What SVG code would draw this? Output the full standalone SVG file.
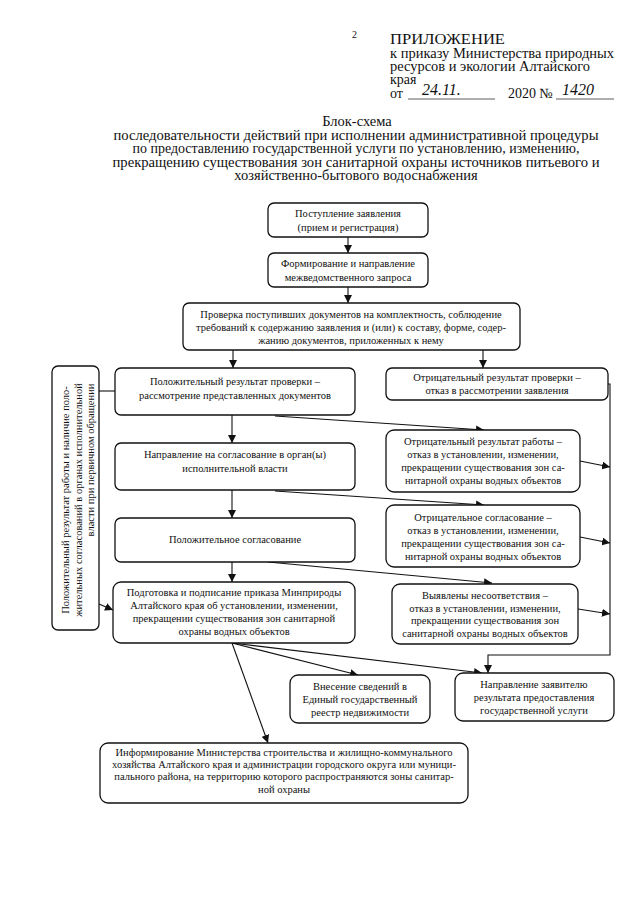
<svg xmlns="http://www.w3.org/2000/svg" width="640" height="905" viewBox="0 0 640 905" font-family="'Liberation Serif', 'DejaVu Serif', serif">
<style>
text{font-family:"Liberation Serif","DejaVu Serif",serif;fill:#111}
.hd{font-size:14px}
.tt{font-size:14.5px;text-anchor:middle}
.bx{fill:#fff;stroke:#111;stroke-width:1.3}
.t{font-size:10.5px;text-anchor:middle}
.ln{stroke:#111;stroke-width:1.1;fill:none}
.ar{marker-end:url(#ah)}
.hw{font-style:italic;font-size:16px}
.ul{stroke:#333;stroke-width:0.8}
</style>
<defs>
<marker id="ah" viewBox="0 0 10 10" refX="10" refY="5" markerWidth="8" markerHeight="8" markerUnits="userSpaceOnUse" orient="auto">
<path d="M0,0 L10,5 L0,10 z" fill="#111"/>
</marker>
</defs>
<rect width="640" height="905" fill="#fff"/>

<g id="header">
<text x="352" y="38" style="font-size:10px">2</text>
<text class="hd" x="390" y="44" textLength="115" lengthAdjust="spacingAndGlyphs">ПРИЛОЖЕНИЕ</text>
<text class="hd" x="390" y="57.5" textLength="224" lengthAdjust="spacingAndGlyphs">к приказу Министерства природных</text>
<text class="hd" x="390" y="71" textLength="200" lengthAdjust="spacingAndGlyphs">ресурсов и экологии Алтайского</text>
<text class="hd" x="390" y="84">края</text>
<text class="hd" x="390" y="98">от</text>
<text class="hw" x="422" y="95">24.11.</text>
<line class="ul" x1="408" y1="99" x2="495" y2="99"/>
<text class="hd" x="508" y="98">2020 №</text>
<text class="hw" x="562" y="95">1420</text>
<line class="ul" x1="556" y1="99" x2="614" y2="99"/>
</g>

<g id="title">
<text class="tt" x="357" y="126">Блок-схема</text>
<text class="tt" x="356" y="139.5" textLength="485" lengthAdjust="spacingAndGlyphs">последовательности действий при исполнении административной процедуры</text>
<text class="tt" x="356" y="153" textLength="447" lengthAdjust="spacingAndGlyphs">по предоставлению государственной услуги по установлению, изменению,</text>
<text class="tt" x="356" y="166.5" textLength="487" lengthAdjust="spacingAndGlyphs">прекращению существования зон санитарной охраны источников питьевого и</text>
<text class="tt" x="356" y="180">хозяйственно-бытового водоснабжения</text>
</g>

<g id="connectors">
<line class="ln ar" x1="348" y1="237" x2="348" y2="253"/>
<line class="ln ar" x1="348" y1="287" x2="348" y2="303"/>
<line class="ln ar" x1="233" y1="350" x2="233" y2="368"/>
<line class="ln ar" x1="483" y1="350" x2="483" y2="368"/>
<line class="ln ar" x1="232" y1="415" x2="232" y2="443"/>
<line class="ln ar" x1="232" y1="490" x2="232" y2="518"/>
<line class="ln ar" x1="232" y1="562" x2="232" y2="582"/>
<line class="ln ar" x1="275" y1="416" x2="484" y2="430"/>
<line class="ln ar" x1="275" y1="491" x2="484" y2="505"/>
<line class="ln ar" x1="268" y1="562" x2="492" y2="583"/>
<polyline class="ln ar" points="608,384 610,384 610,655 488,655 488,673"/>
<line class="ln ar" x1="580" y1="461" x2="610" y2="467"/>
<line class="ln ar" x1="580" y1="537" x2="610" y2="543"/>
<line class="ln ar" x1="578" y1="609" x2="610" y2="614"/>
<line class="ln" x1="99" y1="391" x2="115" y2="391"/>
<line class="ln ar" x1="99" y1="604" x2="113" y2="610"/>
<line class="ln ar" x1="232" y1="643" x2="268" y2="743"/>
<line class="ln ar" x1="232" y1="643" x2="358" y2="675"/>
<line class="ln ar" x1="232" y1="643" x2="482" y2="673"/>
</g>

<g id="n1">
<rect class="bx" x="268" y="203" width="160" height="34" rx="6"/>
<text class="t" x="348" y="217">Поступление заявления</text>
<text class="t" x="348" y="231">(прием и регистрация)</text>
</g>
<g id="n2">
<rect class="bx" x="268" y="253" width="160" height="34" rx="6"/>
<text class="t" x="348" y="267">Формирование и направление</text>
<text class="t" x="348" y="281">межведомственного запроса</text>
</g>
<g id="n3">
<rect class="bx" x="183" y="303" width="337" height="47" rx="6"/>
<text class="t" x="351" y="318">Проверка поступивших документов на комплектность, соблюдение</text>
<text class="t" x="351" y="331">требований к содержанию заявления и (или) к составу, форме, содер-</text>
<text class="t" x="351" y="344">жанию документов, приложенных к нему</text>
</g>
<g id="n4">
<rect class="bx" x="52" y="366" width="47" height="264" rx="6"/>
<text class="t" transform="translate(69,500) rotate(-90)">Положительный результат работы и наличие поло-</text>
<text class="t" transform="translate(82,500) rotate(-90)">жительных согласований в органах исполнительной</text>
<text class="t" transform="translate(94,460) rotate(-90)">власти при первичном обращении</text>
</g>
<g id="n5">
<rect class="bx" x="115" y="368" width="240" height="47" rx="6"/>
<text class="t" x="235" y="385">Положительный результат проверки –</text>
<text class="t" x="235" y="399">рассмотрение представленных документов</text>
</g>
<g id="n6">
<rect class="bx" x="386" y="368" width="222" height="32" rx="6"/>
<text class="t" x="497" y="381">Отрицательный результат проверки –</text>
<text class="t" x="497" y="394">отказ в рассмотрении заявления</text>
</g>
<g id="n7">
<rect class="bx" x="115" y="443" width="240" height="47" rx="6"/>
<text class="t" x="235" y="458">Направление на согласование в орган(ы)</text>
<text class="t" x="235" y="472">исполнительной власти</text>
</g>
<g id="n8">
<rect class="bx" x="386" y="430" width="194" height="62" rx="8"/>
<text class="t" x="483" y="445">Отрицательный результат работы –</text>
<text class="t" x="483" y="458">отказ в установлении, изменении,</text>
<text class="t" x="483" y="471">прекращении существования зон са-</text>
<text class="t" x="483" y="484">нитарной охраны водных объектов</text>
</g>
<g id="n9">
<rect class="bx" x="115" y="518" width="240" height="44" rx="6"/>
<text class="t" x="235" y="543">Положительное согласование</text>
</g>
<g id="n10">
<rect class="bx" x="386" y="505" width="194" height="62" rx="8"/>
<text class="t" x="483" y="521">Отрицательное согласование –</text>
<text class="t" x="483" y="534">отказ в установлении, изменении,</text>
<text class="t" x="483" y="547">прекращении существования зон са-</text>
<text class="t" x="483" y="560">нитарной охраны водных объектов</text>
</g>
<g id="n11">
<rect class="bx" x="113" y="582" width="242" height="61" rx="8"/>
<text class="t" x="234" y="596">Подготовка и подписание приказа Минприроды</text>
<text class="t" x="234" y="609">Алтайского края об установлении, изменении,</text>
<text class="t" x="234" y="622">прекращении существования зон санитарной</text>
<text class="t" x="234" y="635">охраны водных объектов</text>
</g>
<g id="n12">
<rect class="bx" x="392" y="584" width="186" height="60" rx="8"/>
<text class="t" x="485" y="599">Выявлены несоответствия –</text>
<text class="t" x="485" y="612">отказ в установлении, изменении,</text>
<text class="t" x="485" y="624">прекращении существования зон</text>
<text class="t" x="485" y="637">санитарной охраны водных объектов</text>
</g>
<g id="n13">
<rect class="bx" x="290" y="675" width="140" height="48" rx="8"/>
<text class="t" x="360" y="690">Внесение сведений в</text>
<text class="t" x="360" y="703">Единый государственный</text>
<text class="t" x="360" y="716">реестр недвижимости</text>
</g>
<g id="n14">
<rect class="bx" x="455" y="673" width="159" height="48" rx="8"/>
<text class="t" x="534" y="688">Направление заявителю</text>
<text class="t" x="534" y="701">результата предоставления</text>
<text class="t" x="534" y="714">государственной услуги</text>
</g>
<g id="n15">
<rect class="bx" x="100" y="743" width="368" height="60" rx="8"/>
<text class="t" x="284" y="756">Информирование Министерства строительства и жилищно-коммунального</text>
<text class="t" x="284" y="768">хозяйства Алтайского края и администрации городского округа или муници-</text>
<text class="t" x="284" y="780">пального района, на территорию которого распространяются зоны санитар-</text>
<text class="t" x="284" y="793">ной охраны</text>
</g>
</svg>
